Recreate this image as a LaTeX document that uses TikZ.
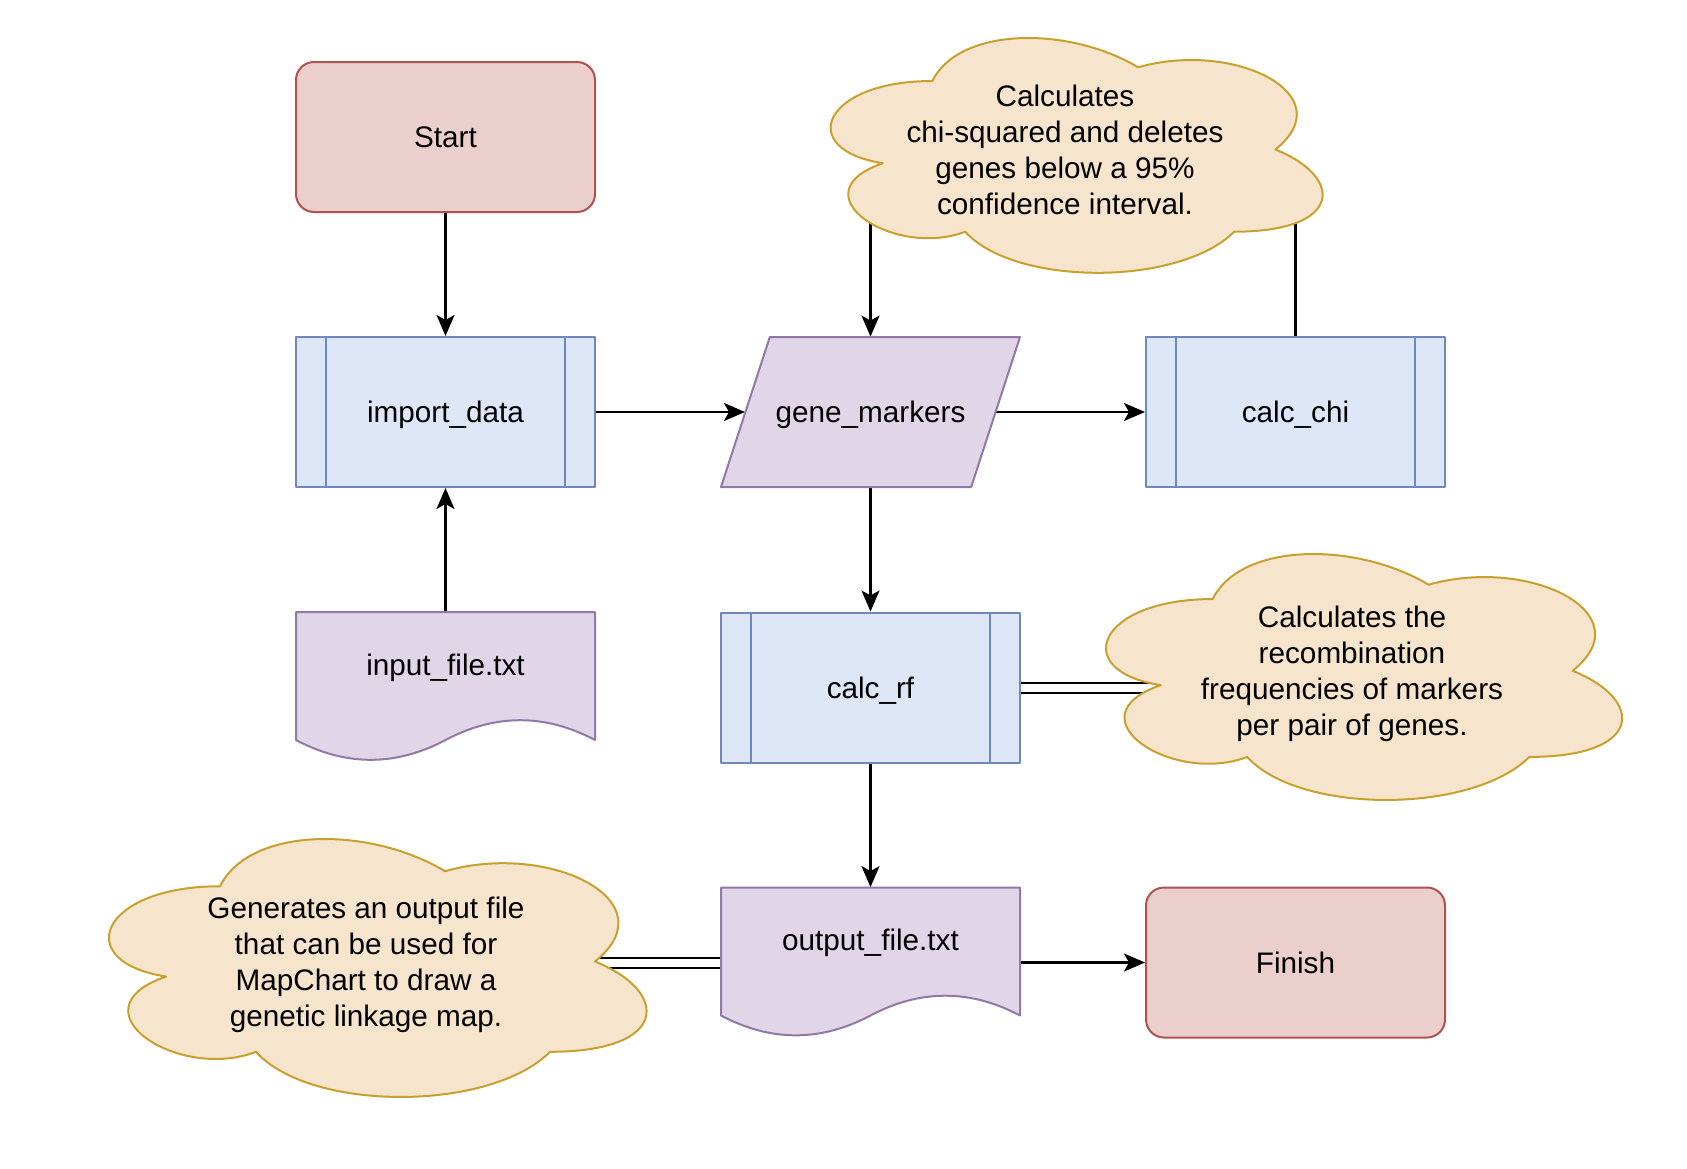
\documentclass[tikz,border=0pt]{standalone}
\usepackage{fontspec}
\setmainfont{Liberation Sans}
\usetikzlibrary{arrows.meta,backgrounds}

\definecolor{redfill}{HTML}{EBCFCC}
\definecolor{reddraw}{HTML}{B0524E}
\definecolor{bluefill}{HTML}{DDE7F8}
\definecolor{bluedraw}{HTML}{7088BF}
\definecolor{purplefill}{HTML}{E0D6E8}
\definecolor{purpledraw}{HTML}{9278A8}
\definecolor{notefill}{HTML}{F6E5CC}
\definecolor{notedraw}{HTML}{C9A02E}

\tikzset{
  terminal/.style={draw=reddraw,fill=redfill,line width=1pt,rounded corners=9pt,
    minimum width=149.5pt,minimum height=75pt,text depth=0pt},
  process/.style={draw=bluedraw,fill=bluefill,line width=1pt,
    minimum width=149.5pt,minimum height=75pt,text depth=0pt,
    path picture={\draw[bluedraw,line width=1pt]
      ([xshift=15pt]path picture bounding box.north west) -- ([xshift=15pt]path picture bounding box.south west)
      ([xshift=-15pt]path picture bounding box.north east) -- ([xshift=-15pt]path picture bounding box.south east);}},
  datanode/.style={minimum width=149.5pt,minimum height=75pt,text depth=0pt},
  dataline/.style={draw=purpledraw,fill=purplefill,line width=1pt},
  docnode/.style={minimum width=149.5pt,minimum height=75pt,text height=11pt,text depth=23pt},
  docline/.style={draw=purpledraw,fill=purplefill,line width=1pt},
  note/.style={align=center},
  noteline/.style={draw=notedraw,fill=notefill,line width=1pt},
  flow/.style={line width=1.1pt,-{Stealth[length=10.5pt,width=9pt,inset=2.5pt]}},
  linkline/.style={line width=1pt,double=white,double distance=4pt}
}

\newcommand{\parashape}[1]{%
  \filldraw[dataline,shift={#1},x=1pt,y=1pt] (-50.35,37.5) -- (74.75,37.5) -- (50.35,-37.5) -- (-74.75,-37.5) -- cycle;}

\newcommand{\docshape}[1]{%
  \filldraw[docline,shift={#1},x=1pt,y=1pt] (-74.75,37.5) -- (74.75,37.5) -- (74.75,-26.5)
    .. controls (49.82,-13.3) and (24.9,-13.3) .. (0,-26.5)
    .. controls (-24.9,-39.7) and (-49.82,-39.7) .. (-74.75,-26.5) -- cycle;}

\newcommand{\cloudshape}[3]{%
  \filldraw[noteline,shift={#1},x=#2,y=#3] (0.25,0.25)
    .. controls (0.05,0.25) and (0,0.5) .. (0.16,0.55)
    .. controls (0,0.66) and (0.18,0.9) .. (0.31,0.8)
    .. controls (0.4,1) and (0.7,1) .. (0.8,0.8)
    .. controls (1,0.8) and (1,0.6) .. (0.875,0.5)
    .. controls (1,0.3) and (0.8,0.1) .. (0.625,0.2)
    .. controls (0.5,0.05) and (0.3,0.05) .. (0.25,0.25) -- cycle;}

\begin{document}
\begin{tikzpicture}[x=0.5pt,y=-0.5pt,line join=round,font=\fontsize{14.85pt}{18pt}\selectfont]
    \useasboundingbox (0,0) rectangle (1687,1168);

    \node[terminal] (start) at (445.5,137) {Start};
    \node[process] (imp) at (445.5,412) {import\_data};
    \parashape{(870.5,412)}
    \node[datanode] (gm) at (870.5,412) {gene\_markers};
    \node[process] (chi) at (1295.5,412) {calc\_chi};
    \docshape{(445.5,687)}
    \node[docnode] (input) at (445.5,687) {input\_file.txt};
    \node[process] (rf) at (870.5,687.5) {calc\_rf};
    \docshape{(870.5,962.5)}
    \node[docnode] (out) at (870.5,962.5) {output\_file.txt};
    \node[terminal] (fin) at (1295.5,962.5) {Finish};

    \cloudshape{(795,12.5)}{274.5pt}{-137pt}
    \node[note] (chinote) at (1065,150) {Calculates\\chi-squared and deletes\\genes below a 95\%\\confidence interval.};
    \cloudshape{(1068.6,527.3)}{288pt}{-143.5pt}
    \node[note] (rfnote) at (1352,674) {Calculates the\\recombination\\frequencies of markers\\per pair of genes.};
    \cloudshape{(70,811)}{300pt}{-150.5pt}
    \node[note] (mapnote) at (366,964.5) {Generates an output file\\that can be used for\\MapChart to draw a\\genetic linkage map.};

    \begin{scope}[on background layer]
        \draw[flow] (start) -- (imp);
        \draw[flow] (input) -- (imp);
        \draw[flow] (imp.east) -- ([xshift=12.2pt]gm.west);
        \draw[flow] ([xshift=-12.2pt]gm.east) -- (chi.west);
        \draw[flow] (gm) -- (rf);
        \draw[flow] (rf) -- (out);
        \draw[flow] (out) -- (fin);
        \draw[flow] (gm.north |- chinote.south) -- (gm.north);
        \draw[line width=1.1pt] (chi.north) -- (chi.north |- chinote.south);
        \draw[linkline] (rf.east) -- (rf.east -| rfnote.center);
        \draw[linkline] (out.west) -- (out.west -| mapnote.center);
    \end{scope}
\end{tikzpicture}
\end{document}
